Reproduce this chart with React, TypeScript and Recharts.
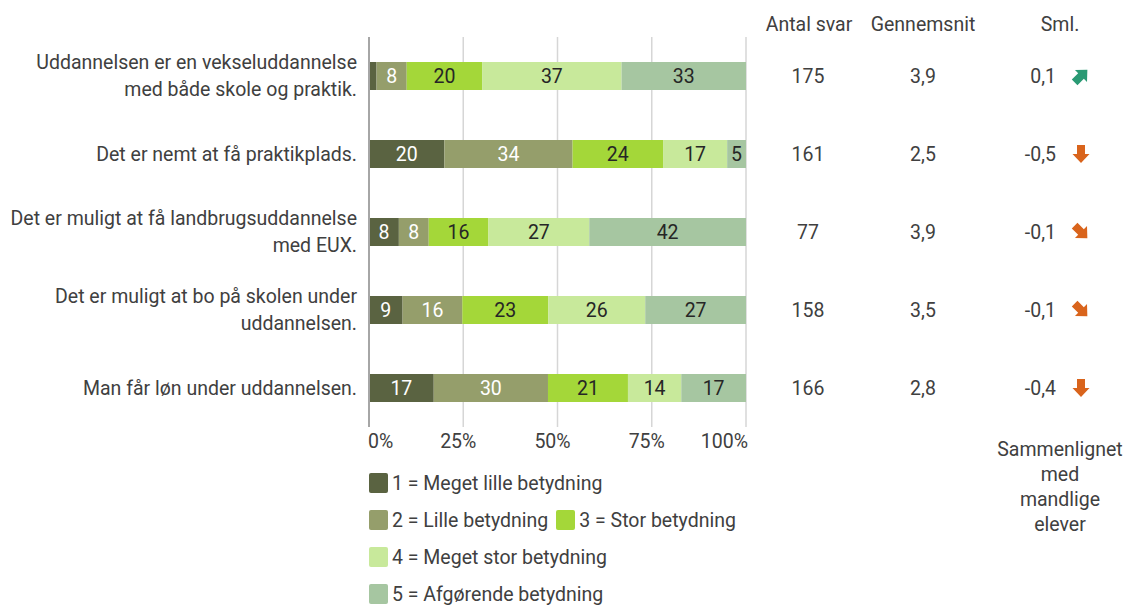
import React from "react";
import {
  BarChart,
  Bar,
  XAxis,
  YAxis,
  CartesianGrid,
  LabelList,
} from "recharts";

// Survey statements (line breaks as in the original)
const categories: string[] = [
  "Uddannelsen er en vekseluddannelse\nmed både skole og praktik.",
  "Det er nemt at få praktikplads.",
  "Det er muligt at få landbrugsuddannelse\nmed EUX.",
  "Det er muligt at bo på skolen under\nuddannelsen.",
  "Man får løn under uddannelsen.",
];

const meget_lille: number[] = [2, 20, 8, 9, 17];
const lille: number[] = [8, 34, 8, 16, 30];
const stor: number[] = [20, 24, 16, 23, 21];
const meget_stor: number[] = [37, 17, 27, 26, 14];
const afgoerende: number[] = [33, 5, 42, 27, 17];

const antalSvar: string[] = ["175", "161", "77", "158", "166"];
const gennemsnit: string[] = ["3,9", "2,5", "3,9", "3,5", "2,8"];
const sml: string[] = ["0,1", "-0,5", "-0,1", "-0,1", "-0,4"];
// arrow direction: up-right, down, down-right
const smlArrow: string[] = ["upright", "down", "downright", "downright", "down"];

const xTicks: number[] = [0, 0.25, 0.5, 0.75, 1];

const seriesNames: string[] = [
  "1 = Meget lille betydning",
  "2 = Lille betydning",
  "3 = Stor betydning",
  "4 = Meget stor betydning",
  "5 = Afgørende betydning",
];
const seriesKeys = ["s1", "s2", "s3", "s4", "s5"];
const seriesColors = ["#5a6341", "#959e6b", "#a4d739", "#c8e99b", "#a6c6a1"];
const labelColors = ["#ffffff", "#ffffff", "#262626", "#262626", "#262626"];

const data = categories.map((c, i) => ({
  name: c,
  s1: meget_lille[i],
  s2: lille[i],
  s3: stor[i],
  s4: meget_stor[i],
  s5: afgoerende[i],
}));

const FONT = "Roboto, sans-serif";
const TEXT = "#404040";
const FS = 19.5;

const CategoryTick = (props: any) => {
  const { x, y, payload } = props;
  const lines: string[] = String(payload.value).split("\n");
  const lh = 27;
  const start = -((lines.length - 1) * lh) / 2;
  return (
    <g transform={`translate(${x},${y})`}>
      {lines.map((l, i) => (
        <text
          key={i}
          x={-4}
          y={start + i * lh}
          dy="0.35em"
          textAnchor="end"
          fontSize={FS}
          fill={TEXT}
          fontFamily={FONT}
        >
          {l}
        </text>
      ))}
    </g>
  );
};

const PctTick = (props: any) => {
  const { x, y, payload, index } = props;
  const anchor = index === 0 ? "start" : index === xTicks.length - 1 ? "end" : "middle";
  return (
    <text
      x={x + (index === xTicks.length - 1 ? 2 : index === 0 ? -1 : -5)}
      y={y + 13}
      textAnchor={anchor}
      fontSize={FS}
      fill={TEXT}
      fontFamily={FONT}
    >
      {`${Math.round(payload.value * 100)}%`}
    </text>
  );
};

const Arrow = ({ kind }: { kind: string }) => {
  const color = kind === "upright" ? "#2a9a74" : "#d9641c";
  const rot = kind === "upright" ? -135 : kind === "down" ? 0 : -45;
  // arrow pointing down, centered at 0,0
  return (
    <g transform={`rotate(${rot})`}>
      <polygon
        points="-4,-9 4,-9 4,0 8.5,0 0,9 -8.5,0 -4,0"
        fill={color}
      />
    </g>
  );
};

const RightTick = (props: any) => {
  const { x, y, index } = props;
  return (
    <g transform={`translate(${x},${y})`} fontFamily={FONT} fontSize={FS} fill={TEXT}>
      <text x={54} y={0} dy="0.35em" textAnchor="middle">
        {antalSvar[index]}
      </text>
      <text x={169} y={0} dy="0.35em" textAnchor="middle">
        {gennemsnit[index]}
      </text>
      <text x={302} y={0} dy="0.35em" textAnchor="end">
        {sml[index]}
      </text>
      <g transform="translate(327,0)">
        <Arrow kind={smlArrow[index]} />
      </g>
    </g>
  );
};

const makeLabel = (color: string) => (props: any) => {
  const { x, y, width, height, value } = props;
  if (width < 14) return null;
  return (
    <text
      x={x + width / 2}
      y={y + height / 2}
      dy="0.36em"
      textAnchor="middle"
      fontSize={FS}
      fontFamily={FONT}
      fill={color}
    >
      {value}
    </text>
  );
};

const LegendItem = ({ i }: { i: number }) => (
  <div style={{ display: "flex", alignItems: "center", marginRight: 8, height: 24 }}>
    <span
      style={{
        display: "inline-block",
        width: 19,
        height: 20,
        borderRadius: 2,
        background: seriesColors[i],
        marginRight: 4,
      }}
    />
    <span>{seriesNames[i]}</span>
  </div>
);

const ChartLegend = () => (
  <div
    style={{
      position: "absolute",
      left: 369,
      top: 471,
      fontFamily: FONT,
      fontSize: FS,
      color: TEXT,
      display: "flex",
      flexDirection: "column",
      rowGap: 13,
    }}
  >
    <LegendItem i={0} />
    <div style={{ display: "flex" }}>
      <LegendItem i={1} />
      <LegendItem i={2} />
    </div>
    <LegendItem i={3} />
    <LegendItem i={4} />
  </div>
);

export default function App() {
  return (
    <div
      style={{
        position: "absolute",
        left: 0,
        top: 0,
        width: 1125,
        height: 606,
        background: "#fff",
        fontFamily: FONT,
      }}
    >
      <BarChart
        width={1125}
        height={606}
        data={data}
        layout="vertical"
        stackOffset="expand"
        barSize={28}
        margin={{ top: 37, right: 0, left: 9, bottom: 0 }}
      >
        <CartesianGrid
          horizontal={false}
          vertical={true}
          stroke="#d6d6d6"
          strokeWidth={1.5}
        />
        <XAxis
          type="number"
          domain={[0, 1]}
          ticks={xTicks}
          axisLine={false}
          tickLine={false}
          height={179}
          tick={<PctTick />}
          interval={0}
        />
        <YAxis
          yAxisId="left"
          type="category"
          dataKey="name"
          width={360}
          axisLine={{ stroke: "#a6a6a6", strokeWidth: 2 }}
          tickLine={false}
          tick={<CategoryTick />}
          interval={0}
        />
        <YAxis
          yAxisId="right"
          orientation="right"
          type="category"
          dataKey="name"
          width={379}
          axisLine={false}
          tickLine={false}
          tick={<RightTick />}
          interval={0}
        />
        {seriesKeys.map((k, i) => (
          <Bar
            key={k}
            yAxisId="left"
            dataKey={k}
            stackId="a"
            name={seriesNames[i]}
            fill={seriesColors[i]}
            isAnimationActive={false}
          >
            <LabelList dataKey={k} content={makeLabel(labelColors[i])} />
          </Bar>
        ))}
      </BarChart>
      <ChartLegend />
      <div
        style={{
          position: "absolute",
          top: 13,
          left: 0,
          width: 1125,
          fontSize: FS,
          color: TEXT,
        }}
      >
        <span style={{ position: "absolute", left: 749, width: 120, textAlign: "center" }}>
          Antal svar
        </span>
        <span style={{ position: "absolute", left: 863, width: 120, textAlign: "center" }}>
          Gennemsnit
        </span>
        <span style={{ position: "absolute", left: 1010, width: 100, textAlign: "center" }}>
          Sml.
        </span>
      </div>
      <div
        style={{
          position: "absolute",
          top: 437,
          left: 990,
          width: 140,
          textAlign: "center",
          fontSize: FS,
          lineHeight: "25px",
          color: TEXT,
        }}
      >
        Sammenlignet
        <br />
        med
        <br />
        mandlige
        <br />
        elever
      </div>
    </div>
  );
}
